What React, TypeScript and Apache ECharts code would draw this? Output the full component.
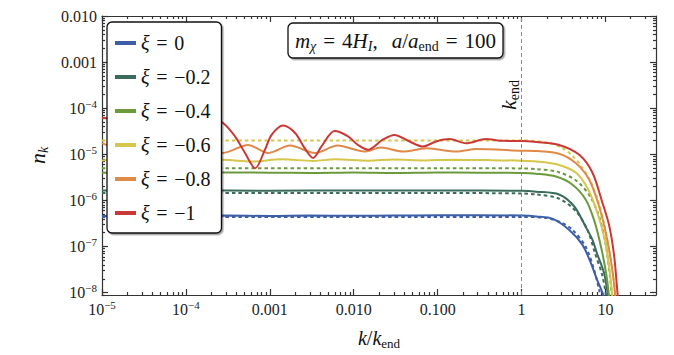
import React, { useEffect, useRef } from "react";
import * as echarts from "echarts";

const FONT = "'Liberation Serif', 'DejaVu Serif', serif";

const legendNames = ["ξ = 0", "ξ = −0.2", "ξ = −0.4", "ξ = −0.6", "ξ = −0.8", "ξ = −1"];
const colors = ["#3d5fa8", "#3a6b5c", "#6b9a3c", "#d6c64c", "#e08a4a", "#c93a36"];

// x range and y range of the axes
const xMin = 1e-5;
const xMax = 40;
const yMin = Math.pow(10, -8.05);
const yMax = 0.01;

const xMajorTicks = [1e-5, 1e-4, 1e-3, 1e-2, 0.1, 1, 10];
const yMajorTicks = [1e-8, 1e-7, 1e-6, 1e-5, 1e-4, 1e-3, 1e-2];

// xi = 0 (numerical, solid) and analytic (dotted)
const k0 = [1e-5, 3e-5, 1e-4, 3e-4, 1e-3, 3e-3, 0.01, 0.03, 0.1, 0.3, 1, 1.5, 2.35, 3.7, 5.3, 6.7, 7.9, 9.2, 10];
const n0 = [4.6e-7, 4.7e-7, 4.6e-7, 4.7e-7, 4.6e-7, 4.7e-7, 4.65e-7, 4.7e-7, 4.75e-7, 4.8e-7, 4.7e-7, 4.5e-7, 4.0e-7, 2.3e-7, 1.1e-7, 4.4e-8, 1.95e-8, 1e-8, 6e-9];
const k0a = [1e-5, 0.1, 1, 2, 3, 4.05, 5.8, 7.3, 8.4, 9.5];
const n0a = [4.4e-7, 4.4e-7, 4.4e-7, 4.15e-7, 3.3e-7, 2.3e-7, 1e-7, 3.2e-8, 1.15e-8, 4e-9];

// xi = -0.2
const k2 = [1e-5, 1e-4, 1e-3, 0.01, 0.1, 1, 1.5, 2.8, 4.25, 5.8, 7.0, 7.9, 9.6, 10.6, 11.5];
const n2 = [1.65e-6, 1.65e-6, 1.63e-6, 1.65e-6, 1.64e-6, 1.62e-6, 1.55e-6, 1.35e-6, 7.4e-7, 2.7e-7, 1.4e-7, 7.2e-8, 2.7e-8, 1e-8, 5e-9];
const k2a = [1e-5, 0.1, 1, 1.5, 2.8, 4.45, 6.1, 7.5, 9.2, 10.5];
const n2a = [1.45e-6, 1.45e-6, 1.42e-6, 1.35e-6, 1.1e-6, 5.8e-7, 2.3e-7, 7.2e-8, 2.3e-8, 6e-9];

// xi = -0.4
const k4 = [1e-5, 1e-4, 1e-3, 3e-3, 0.01, 0.03, 0.1, 0.3, 1, 1.5, 2.57, 4.05, 5.8, 7.3, 8.8, 10.3, 11.2];
const n4 = [4.0e-6, 4.1e-6, 4.0e-6, 3.95e-6, 4.05e-6, 3.95e-6, 4.05e-6, 4.0e-6, 3.95e-6, 3.8e-6, 3.3e-6, 2.2e-6, 1.05e-6, 3.8e-7, 1.03e-7, 2.3e-8, 6e-9];
const k4a = [1e-5, 0.1, 1, 1.5, 2.8, 4.6, 6.6, 8.4, 10, 11.3, 12];
const n4a = [5.0e-6, 5.0e-6, 4.95e-6, 4.8e-6, 4.1e-6, 2.6e-6, 1.2e-6, 4.5e-7, 1.2e-7, 2.3e-8, 7e-9];

// xi = -0.6
const k6 = [1e-5, 3e-5, 1e-4, 2.8e-4, 6e-4, 1.4e-3, 3.3e-3, 6e-3, 0.015, 0.03, 0.07, 0.15, 0.4, 1, 1.5, 2.8, 4.45, 6.1, 8.0, 9.8, 11.3, 12.2];
const n6 = [7.4e-6, 7.8e-6, 7.2e-6, 7.6e-6, 7.0e-6, 7.8e-6, 7.2e-6, 7.8e-6, 7.3e-6, 7.7e-6, 7.4e-6, 7.6e-6, 7.5e-6, 7.3e-6, 7.0e-6, 5.9e-6, 4.0e-6, 1.86e-6, 5.4e-7, 1.4e-7, 2.7e-8, 7e-9];
const k6a = [1e-5, 0.1, 1, 2, 3, 4, 5, 6.5, 8, 9.5, 11, 12.5, 13.5];
const n6a = [2.0e-5, 2.0e-5, 2.0e-5, 1.8e-5, 1.4e-5, 9.5e-6, 6e-6, 2.8e-6, 1.1e-6, 3.5e-7, 9e-8, 2e-8, 6e-9];

// xi = -0.8
const k8 = [1e-5, 2e-5, 4e-5, 8e-5, 1.5e-4, 2.77e-4, 5.5e-4, 9.5e-4, 1.74e-3, 3.45e-3, 6.4e-3, 0.0135, 0.021, 0.0385, 0.074, 0.168, 0.29, 1, 1.5, 2.8, 4.45, 6.4, 8.4, 10.3, 12.2, 13.3];
const n8 = [1.75e-5, 1.2e-5, 1.7e-5, 1.1e-5, 1.65e-5, 1.07e-5, 1.6e-5, 1.07e-5, 1.55e-5, 1.07e-5, 1.55e-5, 1.15e-5, 1.4e-5, 1.15e-5, 1.35e-5, 1.15e-5, 1.3e-5, 1.2e-5, 1.18e-5, 1.03e-5, 6.4e-6, 2.8e-6, 7.4e-7, 1.66e-7, 2.7e-8, 6e-9];

// xi = -1
const k10 = [1e-5, 1.4e-5, 3e-5, 6e-5, 1.2e-4, 2.2e-4, 2.77e-4, 3.85e-4, 5.06e-4, 6.7e-4, 8.75e-4, 1.05e-3, 1.44e-3, 2e-3, 2.6e-3, 3.28e-3, 4.13e-3, 5.9e-3, 8.55e-3, 0.0112, 0.0148, 0.0223, 0.0305, 0.0463, 0.0662, 0.096, 0.139, 0.217, 0.375, 0.6, 1, 1.5, 2.8, 4.87, 7.0, 9.2, 11.1, 12.7, 13.9, 14.5];
const n10 = [6.2e-5, 5.2e-5, 8e-6, 5e-5, 6e-6, 5.5e-5, 4.8e-5, 2.45e-5, 1.07e-5, 5e-6, 1.26e-5, 2.64e-5, 4.2e-5, 2.9e-5, 1.37e-5, 8.3e-6, 1.48e-5, 3.2e-5, 2.45e-5, 1.6e-5, 1.26e-5, 2.1e-5, 2.64e-5, 1.9e-5, 1.48e-5, 1.9e-5, 2.14e-5, 1.74e-5, 2.14e-5, 1.96e-5, 1.95e-5, 1.85e-5, 1.6e-5, 9.8e-6, 4e-6, 8.9e-7, 2.8e-7, 6.2e-8, 1e-8, 5e-9];

const zip = (k: number[], n: number[]) => k.map((v, i) => [v, n[i]]);

function minorTicks(lo: number, hi: number) {
  const out: number[] = [];
  for (let d = -9; d <= 2; d++) {
    for (let m = 2; m <= 9; m++) {
      const v = m * Math.pow(10, d);
      if (v > lo && v < hi) out.push(v);
    }
  }
  return out;
}

function expOf(v: number) {
  return Math.round(Math.log10(v));
}

function xLabel(v: number) {
  const e = expOf(v);
  if (e === -3) return "0.001";
  if (e === -2) return "0.010";
  if (e === -1) return "0.100";
  if (e === 0) return "1";
  if (e === 1) return "10";
  return "10{sup|−" + -e + "}";
}

function yLabel(v: number) {
  const e = expOf(v);
  if (e === -2) return "0.010";
  if (e === -3) return "0.001";
  return "10{sup|−" + -e + "}";
}

const SP = "\u2004"; // wider (math) space

export default function App() {
  const ref = useRef<HTMLDivElement>(null);
  useEffect(() => {
    if (!ref.current) return;
    const chart = echarts.init(ref.current, null, { renderer: "svg" });
    const axisLine = { color: "#333", width: 1.2 };
    const labelRich = {
      sup: { fontSize: 11, fontFamily: FONT, color: "#222", verticalAlign: "top", lineHeight: 10 },
    };
    const xMinor = minorTicks(xMin, xMax);
    const yMinor = minorTicks(yMin, yMax);

    const xBase = { type: "log", min: xMin, max: xMax, splitLine: { show: false } };
    const yBase = { type: "log", min: yMin, max: yMax, splitLine: { show: false } };

    const solid = (name: string, color: string, data: number[][], extra: any = {}) => ({
      name,
      type: "line",
      data,
      showSymbol: false,
      symbol: "none",
      smooth: 0.3,
      itemStyle: { color },
      lineStyle: { color, width: 2 },
      z: 3,
      ...extra,
    });
    const dotted = (name: string, color: string, data: number[][]) => ({
      name,
      type: "line",
      data,
      showSymbol: false,
      symbol: "none",
      smooth: 0.3,
      itemStyle: { color },
      lineStyle: { color, width: 2, type: [3.5, 3] },
      z: 2,
    });

    const mkRich = (big: number, small: number) => ({
      i: { fontFamily: FONT, fontStyle: "italic", fontSize: big, color: "#111", lineHeight: big + 4 },
      n: { fontFamily: FONT, fontSize: big, color: "#111", lineHeight: big + 4 },
      sub: { fontFamily: FONT, fontSize: small, color: "#111", verticalAlign: "bottom", lineHeight: small },
      si: { fontFamily: FONT, fontStyle: "italic", fontSize: small, color: "#111", verticalAlign: "bottom", lineHeight: small },
    });

    chart.setOption({
      animation: false,
      backgroundColor: "#fff",
      grid: { left: 102, right: 18, top: 16, bottom: 60 },
      xAxis: [
        {
          ...xBase,
          position: "bottom",
          axisLine: { show: true, onZero: false, lineStyle: axisLine },
          axisTick: { inside: true, length: 6, customValues: xMajorTicks, lineStyle: axisLine },
          axisLabel: {
            customValues: xMajorTicks,
            formatter: (v: number) => xLabel(v),
            fontFamily: FONT,
            fontSize: 16,
            color: "#222",
            lineHeight: 20,
            margin: 4,
            rich: labelRich,
          },
          name: "{i|k}{n|/}{i|k}{sub|end}",
          nameLocation: "middle",
          nameGap: 31,
          nameTextStyle: { fontFamily: FONT, fontSize: 20, color: "#111", rich: mkRich(20, 13) },
        },
        {
          ...xBase,
          position: "top",
          axisLine: { show: true, onZero: false, lineStyle: axisLine },
          axisTick: { inside: true, length: 6, customValues: xMajorTicks, lineStyle: axisLine },
          axisLabel: { show: false },
        },
        {
          ...xBase,
          position: "bottom",
          axisLine: { show: false },
          axisTick: { inside: true, length: 3, customValues: xMinor, lineStyle: axisLine },
          axisLabel: { show: false },
        },
        {
          ...xBase,
          position: "top",
          axisLine: { show: false },
          axisTick: { inside: true, length: 3, customValues: xMinor, lineStyle: axisLine },
          axisLabel: { show: false },
        },
      ],
      yAxis: [
        {
          ...yBase,
          position: "left",
          axisLine: { show: true, onZero: false, lineStyle: axisLine },
          axisTick: { inside: true, length: 6, customValues: yMajorTicks, lineStyle: axisLine },
          axisLabel: {
            customValues: yMajorTicks,
            formatter: (v: number) => yLabel(v),
            fontFamily: FONT,
            fontSize: 16,
            color: "#222",
            lineHeight: 20,
            margin: 5,
            rich: labelRich,
          },
          name: "{i|n}{si|k}",
          nameLocation: "middle",
          nameGap: 44,
          nameTextStyle: { fontFamily: FONT, fontSize: 21, color: "#111", rich: mkRich(22, 14) },
        },
        {
          ...yBase,
          position: "right",
          axisLine: { show: true, onZero: false, lineStyle: axisLine },
          axisTick: { inside: true, length: 6, customValues: yMajorTicks, lineStyle: axisLine },
          axisLabel: { show: false },
        },
        {
          ...yBase,
          position: "left",
          axisLine: { show: false },
          axisTick: { inside: true, length: 3, customValues: yMinor, lineStyle: axisLine },
          axisLabel: { show: false },
        },
        {
          ...yBase,
          position: "right",
          axisLine: { show: false },
          axisTick: { inside: true, length: 3, customValues: yMinor, lineStyle: axisLine },
          axisLabel: { show: false },
        },
      ],
      legend: {
        data: legendNames,
        orient: "vertical",
        left: 107,
        top: 22,
        padding: [11, 11, 10, 8],
        itemGap: 14,
        itemWidth: 21,
        itemHeight: 4,
        icon: "rect",
        backgroundColor: "#fff",
        borderColor: "#111",
        borderWidth: 1.3,
        borderRadius: 5,
        shadowColor: "rgba(0,0,0,0.35)",
        shadowBlur: 1,
        shadowOffsetX: 1.5,
        shadowOffsetY: 1.5,
        formatter: (name: string) => name.replace("ξ", "{i|ξ}").split(" ").join(SP),
        textStyle: {
          fontFamily: FONT,
          fontSize: 20,
          color: "#111",
          lineHeight: 20,
          rich: { i: { fontFamily: FONT, fontStyle: "italic", fontSize: 20, color: "#111", lineHeight: 20 } },
        },
      },
      graphic: [
        {
          type: "rect",
          shape: { x: 288, y: 23, width: 215, height: 35, r: 5 },
          style: {
            fill: "#fff",
            stroke: "#111",
            lineWidth: 1.3,
            shadowColor: "rgba(0,0,0,0.35)",
            shadowBlur: 1,
            shadowOffsetX: 1.5,
            shadowOffsetY: 1.5,
          },
          z: 10,
        },
        {
          type: "text",
          x: 395.5,
          y: 40.5,
          z: 11,
          style: {
            text:
              "{i|m}{si|χ}{n|" + SP + "=" + SP + "4}{i|H}{si|I}{n|," + SP + SP + "}{i|a}{n|/}{i|a}{sub|end}{n|" +
              SP + "=" + SP + "100}",
            align: "center",
            verticalAlign: "middle",
            fontFamily: FONT,
            fontSize: 21,
            fill: "#111",
            rich: mkRich(21, 14),
          },
        },
        {
          type: "text",
          x: 508,
          y: 95,
          rotation: Math.PI / 2,
          z: 11,
          style: {
            text: "{i|k}{sub|end}",
            align: "center",
            verticalAlign: "middle",
            fontFamily: FONT,
            fontSize: 22,
            fill: "#111",
            rich: mkRich(22, 14),
          },
        },
      ],
      series: [
        solid(legendNames[0], colors[0], zip(k0, n0), {
          markLine: {
            silent: true,
            symbol: "none",
            label: { show: false },
            lineStyle: { color: "#8a8a8a", type: [4, 3], width: 1 },
            data: [{ xAxis: 1 }],
          },
        }),
        solid(legendNames[1], colors[1], zip(k2, n2)),
        solid(legendNames[2], colors[2], zip(k4, n4)),
        solid(legendNames[3], colors[3], zip(k6, n6)),
        solid(legendNames[4], colors[4], zip(k8, n8)),
        solid(legendNames[5], colors[5], zip(k10, n10)),
        dotted("analytic ξ = 0", colors[0], zip(k0a, n0a)),
        dotted("analytic ξ = −0.2", colors[1], zip(k2a, n2a)),
        dotted("analytic ξ = −0.4", colors[2], zip(k4a, n4a)),
        dotted("analytic ξ = −0.6", colors[3], zip(k6a, n6a)),
      ],
    });
    return () => chart.dispose();
  }, []);
  return (
    <div
      ref={ref}
      style={{ position: "fixed", left: 0, top: 0, width: 674, height: 355, background: "#fff" }}
    />
  );
}
